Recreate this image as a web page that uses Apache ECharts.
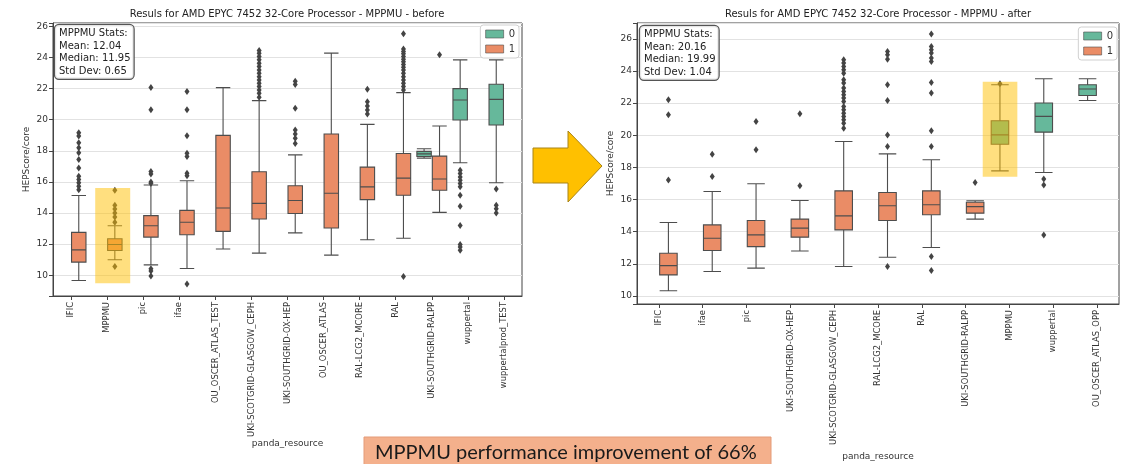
<!DOCTYPE html>
<html><head><meta charset="utf-8">
<script src="https://cdn.jsdelivr.net/npm/echarts@6/dist/echarts.min.js"></script>
<style>html,body{margin:0;padding:0;background:#fff}#c{width:1127px;height:464px}</style>
</head><body><div id="c"></div>
<script>
// ---------- DATA ----------
const leftTitle = 'Resuls for AMD EPYC 7452 32-Core Processor - MPPMU - before';
const rightTitle = 'Resuls for AMD EPYC 7452 32-Core Processor - MPPMU - after';
const leftStats = ['MPPMU Stats:', 'Mean: 12.04', 'Median: 11.95', 'Std Dev: 0.65'];
const rightStats = ['MPPMU Stats:', 'Mean: 20.16', 'Median: 19.99', 'Std Dev: 1.04'];
const bannerText = 'MPPMU performance improvement of 66%';
const hueNames = ['0', '1'];

const leftCats = ['IFIC','MPPMU','pic','ifae','OU_OSCER_ATLAS_TEST','UKI-SCOTGRID-GLASGOW_CEPH','UKI-SOUTHGRID-OX-HEP','OU_OSCER_ATLAS','RAL-LCG2_MCORE','RAL','UKI-SOUTHGRID-RALPP','wuppertal','wuppertalprod_TEST'];
// [whisker low, Q1, median, Q3, whisker high]
const leftBox1 = [
  [9.66,10.84,11.63,12.75,15.12],
  [10.99,11.59,11.97,12.34,13.18],
  [10.66,12.45,13.18,13.83,15.8],
  [10.43,12.6,13.4,14.17,16.07],
  [11.68,12.82,14.32,18.99,22.06],
  [11.42,13.61,14.62,16.65,21.23],
  [12.72,13.97,14.8,15.75,17.74],
  [11.29,13.03,15.27,19.08,24.28],
  [12.28,14.86,15.68,16.95,19.7],
  [12.37,15.14,16.24,17.83,21.74],
  [14.04,15.46,16.19,17.66,19.59],
  null, null
];
const leftBox0 = [null,null,null,null,null,null,null,null,null,null,
  [17.53,17.63,17.8,17.96,18.13],
  [17.23,19.98,21.27,22.0,23.85],
  [15.94,19.66,21.31,22.28,23.85]
];
const leftOut1 = [
  [19.16,18.95,18.52,18.19,17.87,17.44,16.9,16.37,16.15,15.94,15.72,15.5],
  [15.46,14.49,14.26,14.0,13.74,13.4,10.56],
  [22.07,20.64,16.67,16.5,16.0,15.9,10.42,10.27,9.95],
  [21.82,20.64,18.96,17.85,17.63,16.56,16.39,9.43],
  [],
  [24.45,24.28,24.06,23.85,23.63,23.42,23.2,22.99,22.77,22.56,22.34,22.13,21.91,21.7,21.44],
  [22.47,22.26,20.74,19.33,19.08,18.8,18.47],
  [],
  [21.96,21.16,20.88,20.62,20.37],
  [25.53,24.54,24.39,24.24,24.06,23.89,23.72,23.55,23.38,23.2,22.99,22.77,22.56,22.34,22.13,21.91,9.91],
  [24.17],
  [], []
];
const leftOut0 = [[],[],[],[],[],[],[],[],[],[],[],
  [16.75,16.54,16.32,16.11,15.89,15.68,15.14,14.43,13.2,11.98,11.81,11.61],
  [15.55,14.49,14.28,14.0]
];
const leftHighlight = ['MPPMU', 9.48, 15.6];
const leftYRange = [8.66, 26.22];

const rightCats = ['IFIC','ifae','pic','UKI-SOUTHGRID-OX-HEP','UKI-SCOTGRID-GLASGOW_CEPH','RAL-LCG2_MCORE','RAL','UKI-SOUTHGRID-RALPP','MPPMU','wuppertal','OU_OSCER_ATLAS_OPP'];
const rightBox1 = [
  [10.32,11.31,11.89,12.66,14.57],
  [11.52,12.83,13.59,14.42,16.5],
  [11.73,13.07,13.8,14.69,16.98],
  [12.8,13.66,14.22,14.78,15.94],
  [11.83,14.11,14.98,16.54,19.61],
  [12.41,14.69,15.61,16.44,18.84],
  [13.01,15.05,15.67,16.54,18.47],
  [14.78,15.15,15.56,15.83,15.92],
  null, null, null
];
const rightBox0 = [null,null,null,null,null,null,null,null,
  [17.78,19.44,20.02,20.9,23.14],
  [17.68,20.19,21.17,22.0,23.51],
  [22.16,22.47,22.87,23.14,23.51]
];
const rightOut1 = [
  [22.2,21.27,17.22],
  [18.82,17.43],
  [20.85,19.09],
  [21.33,16.85],
  [24.69,24.49,24.28,24.07,23.86,23.45,23.24,22.93,22.72,22.51,22.31,22.1,21.79,21.58,21.37,21.17,20.96,20.75,20.44],
  [25.21,25.0,24.73,23.14,22.16,20.02,19.3,11.83],
  [26.29,25.52,25.32,25.11,24.8,24.59,23.28,22.62,20.27,19.3,12.45,11.58],
  [17.06],
  [], [], []
];
const rightOut0 = [[],[],[],[],[],[],[],[],
  [23.2],
  [17.27,16.91,13.8],
  []
];
const rightHighlight = ['MPPMU', 17.41, 23.32];
const rightYRange = [9.5, 26.98];

// ---------- STYLE / LAYOUT ----------
const FONT = 'DejaVu Sans';
const C_ORANGE = '#ea8c66';
const C_GREEN = '#66b89b';
const C_LINE = '#4d4d4d';
const C_FRAME = '#444';
const C_GRIDLINE = '#e2e2e2';
const C_HL = 'rgba(255,192,0,0.5)';
const hueColors = [C_GREEN, C_ORANGE];
const gridL = {left:53, top:23, width:469, height:273};
const gridR = {left:637, top:23, width:482, height:281};

function dodgeOffset(bw){ return 0.2875 * (0.8 * bw - 2); }
const offL = dodgeOffset(gridL.width / leftCats.length);
const offR = dodgeOffset(gridR.width / rightCats.length);

function boxData(arr){ return arr.map(v => v ? v : ['-','-','-','-','-']); }
function outData(cats, outs){
  const d = [];
  cats.forEach((c,i) => (outs[i] || []).forEach(v => d.push([c, v])));
  return d;
}
function boxSeries(name, idx, data, color){
  return {type:'boxplot', name, xAxisIndex:idx, yAxisIndex:idx, data:boxData(data),
    boxWidth:['40%','40%'], z:3,
    itemStyle:{color, borderColor:C_LINE, borderWidth:1.1},
    emphasis:{disabled:true}};
}
function outSeries(idx, data, off){
  return {type:'scatter', name:'outliers', xAxisIndex:idx, yAxisIndex:idx, data,
    symbol:'diamond', symbolSize:[5,7], symbolOffset:[off,0], z:4,
    itemStyle:{color:'#444', opacity:1}, emphasis:{disabled:true}, silent:true};
}
function hlSeries(idx, hl, a, b){
  return {type:'custom', xAxisIndex:idx, yAxisIndex:idx, z:10, silent:true,
    data:[hl], encode:{x:0, y:[1,2]},
    renderItem:(params, api) => {
      const p1 = api.coord([api.value(0), api.value(1)]);
      const p2 = api.coord([api.value(0), api.value(2)]);
      const bw = api.size([1,0])[0];
      return {type:'rect', shape:{x:p1[0] + a*bw, y:p2[1], width:(b-a)*bw, height:p1[1]-p2[1]},
        style:{fill:C_HL}};
    }};
}
function xAxis(idx, cats, nameGap){
  return {type:'category', gridIndex:idx, data:cats, boundaryGap:true,
    name:'panda_resource', nameLocation:'middle', nameGap, nameMoveOverlap:false,
    nameTextStyle:{fontFamily:FONT, fontSize:9, color:'#333'},
    axisLine:{show:true, lineStyle:{color:C_FRAME, width:1}},
    axisTick:{show:true, alignWithLabel:true, length:4, lineStyle:{color:C_FRAME}},
    axisLabel:{rotate:90, interval:0, fontFamily:FONT, fontSize:8.4, color:'#333', margin:6},
    splitLine:{show:false}};
}
function yAxis(idx, range){
  return {type:'value', gridIndex:idx, min:range[0], max:range[1], splitNumber:9,
    name:'HEPScore/core', nameLocation:'middle', nameRotate:90, nameGap:22,
    nameTextStyle:{fontFamily:FONT, fontSize:9, color:'#333'},
    axisLine:{show:true, lineStyle:{color:C_FRAME, width:1}},
    axisTick:{show:true, length:4, lineStyle:{color:C_FRAME}},
    axisLabel:{fontFamily:FONT, fontSize:9, color:'#333', margin:5,
      formatter: v => (Math.abs(v - Math.round(v)) < 1e-6 && Math.round(v) % 2 === 0) ? String(Math.round(v)) : ''},
    splitLine:{show:true, lineStyle:{color:C_GRIDLINE, width:1}}};
}
function legend(rightPx, top){
  return {data:hueNames.map((n,i) => ({name:n, icon:'rect',
      itemStyle:{color:hueColors[i], borderColor:C_LINE, borderWidth:0.6}})),
    orient:'vertical', right:rightPx, top,
    itemWidth:18, itemHeight:8, itemGap:5, padding:[4,4,4,5],
    backgroundColor:'#fff', borderColor:'#d0d0d0', borderWidth:1, borderRadius:3,
    textStyle:{fontFamily:FONT, fontSize:10, color:'#333'}, selectedMode:false};
}
function statsText(x, y, lines){
  return {type:'text', x, y, z:100,
    style:{text:lines.join('\n'), fontFamily:FONT, fontSize:10, lineHeight:12.7, fill:'#222',
      backgroundColor:'rgba(255,255,255,0.85)', borderColor:'#555', borderWidth:1.2,
      borderRadius:4, padding:[2,3,1,4]}};
}
function titleText(x, y, t){
  return {type:'text', x, y, z:100,
    style:{text:t, fontFamily:FONT, fontSize:10, fill:'#222', textAlign:'center', textVerticalAlign:'middle'}};
}
const gridBase = {show:true, borderColor:C_FRAME, borderWidth:1, backgroundColor:'#fff',
  containLabel:false, outerBoundsMode:'none'};

const chart = echarts.init(document.getElementById('c'), null, {renderer:'canvas'});
chart.setOption({
  animation:false,
  backgroundColor:'#fff',
  grid:[Object.assign({}, gridBase, gridL), Object.assign({}, gridBase, gridR)],
  xAxis:[xAxis(0, leftCats, 143), xAxis(1, rightCats, 148)],
  yAxis:[yAxis(0, leftYRange), yAxis(1, rightYRange)],
  legend:[legend(1127-519, 25), legend(1127-1117, 27)],
  series:[
    boxSeries(hueNames[0], 0, leftBox0, C_GREEN),
    boxSeries(hueNames[1], 0, leftBox1, C_ORANGE),
    outSeries(0, outData(leftCats, leftOut0), -offL),
    outSeries(0, outData(leftCats, leftOut1), offL),
    hlSeries(0, leftHighlight, -0.33, 0.64),
    boxSeries(hueNames[0], 1, rightBox0, C_GREEN),
    boxSeries(hueNames[1], 1, rightBox1, C_ORANGE),
    outSeries(1, outData(rightCats, rightOut0), -offR),
    outSeries(1, outData(rightCats, rightOut1), offR),
    hlSeries(1, rightHighlight, -0.61, 0.18)
  ],
  graphic:[
    titleText(287, 14, leftTitle),
    titleText(878, 14, rightTitle),
    statsText(55, 25, leftStats),
    statsText(640, 26, rightStats),
    {type:'polygon', z:100,
      shape:{points:[[533,148],[568,148],[568,131],[602,166],[568,202],[568,183],[533,183]]},
      style:{fill:'#FFC000', stroke:'#A88418', lineWidth:1}},
    {type:'rect', z:100, shape:{x:364, y:437, width:407, height:40},
      style:{fill:'#F4B08C', stroke:'#E49B78', lineWidth:1}},
    {type:'text', z:101, x:375, y:443,
      style:{text:bannerText, fontFamily:'Lato', fontSize:20, fill:'#1a1a1a', textVerticalAlign:'top'}}
  ]
});
</script></body></html>
